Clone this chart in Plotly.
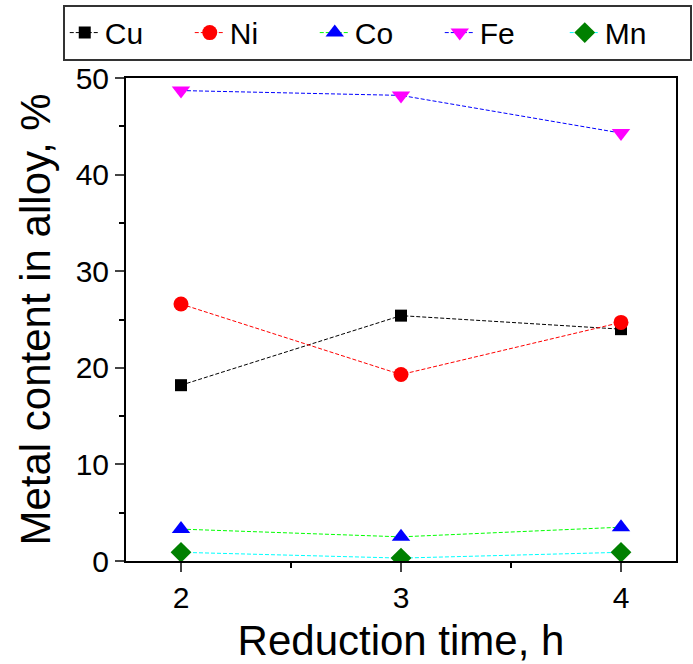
import plotly.graph_objects as go

time_h = [2, 3, 4]
cu = [18.2, 25.4, 24.0]
ni = [26.6, 19.3, 24.7]
co = [3.3, 2.5, 3.5]
fe = [48.7, 48.2, 44.3]
mn = [0.9, 0.3, 0.9]

series = [
    ("Cu", cu, "black", "square", "black", 12),
    ("Ni", ni, "red", "circle", "red", 15),
    ("Co", co, "#00ff00", "triangle-up", "blue", 16),
    ("Fe", fe, "blue", "triangle-down", "magenta", 16),
    ("Mn", mn, "cyan", "diamond", "green", 16),
]

fig = go.Figure()
for name, vals, lc, sym, mc, ms in series:
    fig.add_trace(go.Scatter(
        x=time_h, y=vals, name=name, mode="lines+markers",
        line=dict(color=lc, width=1, dash="4px,2px"),
        marker=dict(symbol=sym, color=mc, size=ms, line=dict(width=0)),
    ))

font_family = "Liberation Sans, Arial, sans-serif"
fig.update_layout(
    width=693, height=664,
    margin=dict(l=126, r=17, t=78, b=103, autoexpand=False),
    plot_bgcolor="white", paper_bgcolor="white",
    font=dict(family=font_family, color="black"),
    showlegend=True,
    legend=dict(
        orientation="h", x=-0.115, y=1.152, xanchor="left", yanchor="top",
        bordercolor="#333333", borderwidth=2, bgcolor="white",
        font=dict(size=30, family=font_family),
        entrywidth=80, entrywidthmode="pixels",
        tracegroupgap=0,
    ),
    xaxis=dict(
        range=[1.75, 4.25], tickvals=[2, 3, 4], ticks="outside", ticklen=9,
        tickwidth=2, linewidth=2, linecolor="black", mirror=True,
        showgrid=False, zeroline=False, tickfont=dict(size=30),
        minor=dict(tickvals=[2.5, 3.5], ticks="outside", ticklen=5, tickwidth=2, tickcolor="black"),
        title=dict(text="Reduction time, h", font=dict(size=42), standoff=14),
    ),
    yaxis=dict(
        range=[0, 50], tickvals=[0, 10, 20, 30, 40, 50], ticks="outside", ticklen=9,
        tickwidth=2, linewidth=2, linecolor="black", mirror=True,
        showgrid=False, zeroline=False, tickfont=dict(size=30),
        minor=dict(tickvals=[5, 15, 25, 35, 45], ticks="outside", ticklen=5, tickwidth=2, tickcolor="black"),
        title=dict(text="Metal content in alloy, %", font=dict(size=42), standoff=12),
    ),
)
fig.write_html("out.html")
